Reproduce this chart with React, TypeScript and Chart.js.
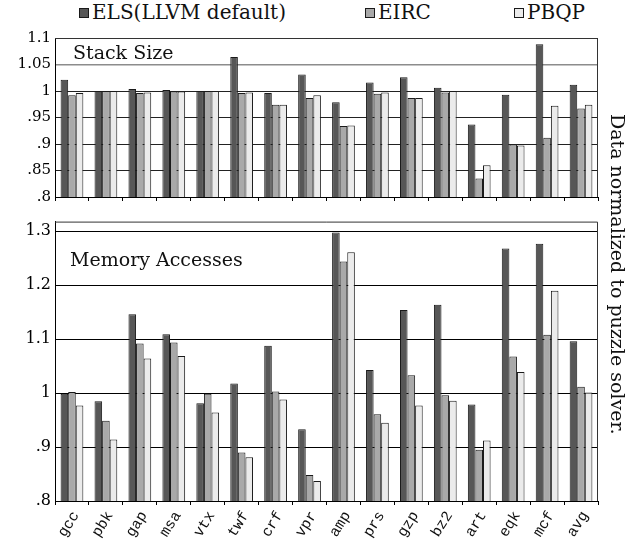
import React, { useEffect, useRef } from 'react';
import { Chart, registerables } from 'chart.js';

Chart.register(...registerables);

const categories = ['gcc', 'pbk', 'gap', 'msa', 'vtx', 'twf', 'crf', 'vpr', 'amp', 'prs', 'gzp', 'bz2', 'art', 'eqk', 'mcf', 'avg'];
const seriesNames = ['ELS(LLVM default)', 'EIRC', 'PBQP'];
const seriesColors = ['#575757', '#a9a9a9', '#ebebeb'];

// Stack Size panel
const stackELS = [1.021, 1.0, 1.004, 1.002, 1.0, 1.064, 0.996, 1.031, 0.979, 1.016, 1.026, 1.006, 0.937, 0.993, 1.088, 1.012];
const stackEIRC = [0.992, 1.0, 0.996, 0.999, 1.0, 0.996, 0.974, 0.987, 0.934, 0.995, 0.987, 0.997, 0.835, 0.899, 0.912, 0.967];
const stackPBQP = [0.996, 1.0, 0.997, 0.999, 1.0, 0.997, 0.974, 0.992, 0.935, 0.997, 0.987, 1.0, 0.86, 0.897, 0.972, 0.974];

// Memory Accesses panel
const memELS = [0.999, 0.985, 1.146, 1.109, 0.981, 1.018, 1.088, 0.933, 1.298, 1.043, 1.154, 1.164, 0.979, 1.268, 1.277, 1.096];
const memEIRC = [1.002, 0.949, 1.092, 1.094, 0.999, 0.89, 1.003, 0.848, 1.244, 0.961, 1.033, 0.996, 0.895, 1.068, 1.108, 1.012];
const memPBQP = [0.977, 0.914, 1.064, 1.069, 0.964, 0.881, 0.988, 0.837, 1.261, 0.945, 0.977, 0.986, 0.912, 1.039, 1.19, 1.001];

const stackRange = { min: 0.8, max: 1.1, step: 0.05 };
const memRange = { min: 0.8, max: 1.318, step: 0.1 };

const stackTitle = 'Stack Size';
const memTitle = 'Memory Accesses';
const sideLabel = 'Data normalized to puzzle solver.';

const SERIF = '"DejaVu Serif", serif';
const MONO = '"Liberation Mono", monospace';
const LABEL_ANGLE = 58;

const TOP_CANVAS = { top: 25, height: 187 };
const BOT_CANVAS = { top: 208, height: 338 };

const fmt = (v: number | string) => {
  const r = Math.round(Number(v) * 100) / 100;
  let s = String(r);
  if (s.startsWith('0.')) s = s.slice(1);
  return s;
};

const framePlugin = {
  id: 'frame',
  afterDraw(chart: any) {
    const { ctx, chartArea } = chart;
    const { left, top, right, bottom } = chartArea;
    ctx.save();
    ctx.strokeStyle = '#333';
    ctx.lineWidth = 1;
    ctx.beginPath();
    ctx.moveTo(left, top + 0.5);
    ctx.lineTo(right - 0.5, top + 0.5);
    ctx.lineTo(right - 0.5, bottom);
    ctx.stroke();
    ctx.restore();
  },
};

const titlePlugin = {
  id: 'panelTitle',
  afterDraw(chart: any, _args: any, opts: any) {
    const { ctx, chartArea } = chart;
    ctx.save();
    ctx.fillStyle = '#111';
    ctx.font = `19px ${SERIF}`;
    ctx.textBaseline = 'alphabetic';
    ctx.textAlign = 'left';
    ctx.fillText(opts.text, chartArea.left + opts.dx, chartArea.top + opts.dy);
    ctx.restore();
  },
};

function makeDatasets(values: number[][]) {
  return values.map((vals, i) => ({
    label: seriesNames[i],
    data: vals,
    backgroundColor: seriesColors[i],
    borderColor: '#1a1a1a',
    borderWidth: 1,
    categoryPercentage: 0.67,
    barPercentage: 1.0,
  }));
}

function makeConfig(
  values: number[][],
  range: { min: number; max: number; step: number },
  title: string,
  titlePos: { dx: number; dy: number },
  showLabels: boolean,
  xHeight: number,
  gridColor: (v: number) => string,
  gridWidth: (v: number) => number,
  yFont: number
): any {
  return {
    type: 'bar',
    data: { labels: categories, datasets: makeDatasets(values) },
    options: {
      responsive: false,
      animation: false,
      devicePixelRatio: 1,
      layout: { padding: { left: 0, right: 44, top: 0, bottom: 0 } },
      plugins: {
        legend: { display: false },
        tooltip: { enabled: false },
        panelTitle: { text: title, dx: titlePos.dx, dy: titlePos.dy },
      },
      scales: {
        x: {
          grid: { drawOnChartArea: false, drawTicks: true, tickLength: 4, color: '#000', offset: true },
          border: { color: '#000', width: 1 },
          ticks: {
            display: showLabels,
            autoSkip: false,
            minRotation: LABEL_ANGLE,
            maxRotation: LABEL_ANGLE,
            labelOffset: 4,
            padding: 3,
            color: '#111',
            font: { family: MONO, size: 15 },
          },
          afterFit: (s: any) => {
            s.height = xHeight;
          },
        },
        y: {
          min: range.min,
          max: range.max,
          ticks: {
            stepSize: range.step,
            includeBounds: false,
            callback: (v: any) => fmt(v),
            color: '#000',
            padding: 4,
            font: { family: SERIF, size: yFont },
          },
          grid: {
            drawTicks: false,
            color: (ctx: any) => gridColor(ctx.tick ? ctx.tick.value : 0),
            lineWidth: (ctx: any) => gridWidth(ctx.tick ? ctx.tick.value : 0),
          },
          border: { color: '#000', width: 1 },
          afterFit: (s: any) => {
            s.width = 55;
          },
        },
      },
    },
    plugins: [framePlugin, titlePlugin],
  };
}

export default function App() {
  const topRef = useRef<HTMLCanvasElement>(null);
  const botRef = useRef<HTMLCanvasElement>(null);

  useEffect(() => {
    const top = new Chart(
      topRef.current as HTMLCanvasElement,
      makeConfig(
        [stackELS, stackEIRC, stackPBQP],
        stackRange,
        stackTitle,
        { dx: 18, dy: 21 },
        false,
        15,
        (v) => (Math.abs(v - 1.05) < 1e-6 ? '#8c8c8c' : '#222'),
        (v) => (Math.abs(v - 1.05) < 1e-6 ? 1.6 : 1),
        15
      )
    );
    const bot = new Chart(
      botRef.current as HTMLCanvasElement,
      makeConfig(
        [memELS, memEIRC, memPBQP],
        memRange,
        memTitle,
        { dx: 15, dy: 44 },
        true,
        45,
        () => '#000',
        () => 1,
        16
      )
    );
    return () => {
      top.destroy();
      bot.destroy();
    };
  }, []);

  const legendLefts = [79, 365, 514];

  return (
    <div
      style={{
        position: 'absolute',
        left: 0,
        top: 0,
        width: 642,
        height: 546,
        background: '#fff',
        overflow: 'hidden',
      }}
    >
      {seriesNames.map((name, i) => (
        <div
          key={name}
          style={{
            position: 'absolute',
            left: legendLefts[i],
            top: 1,
            display: 'flex',
            alignItems: 'center',
            font: `20px ${SERIF}`,
            lineHeight: '23px',
            color: '#111',
            whiteSpace: 'nowrap',
          }}
        >
          <span
            style={{
              display: 'inline-block',
              width: 8,
              height: 8,
              border: '1px solid #1a1a1a',
              background: seriesColors[i],
              marginRight: 3,
            }}
          />
          <span>{name}</span>
        </div>
      ))}
      <canvas
        ref={topRef}
        width={642}
        height={TOP_CANVAS.height}
        style={{ position: 'absolute', left: 0, top: TOP_CANVAS.top, width: 642, height: TOP_CANVAS.height }}
      />
      <canvas
        ref={botRef}
        width={642}
        height={BOT_CANVAS.height}
        style={{ position: 'absolute', left: 0, top: BOT_CANVAS.top, width: 642, height: BOT_CANVAS.height }}
      />
      <div
        style={{
          position: 'absolute',
          left: 607,
          top: 114,
          writingMode: 'vertical-rl',
          font: `19px ${SERIF}`,
          color: '#111',
          whiteSpace: 'nowrap',
        }}
      >
        {sideLabel}
      </div>
    </div>
  );
}
